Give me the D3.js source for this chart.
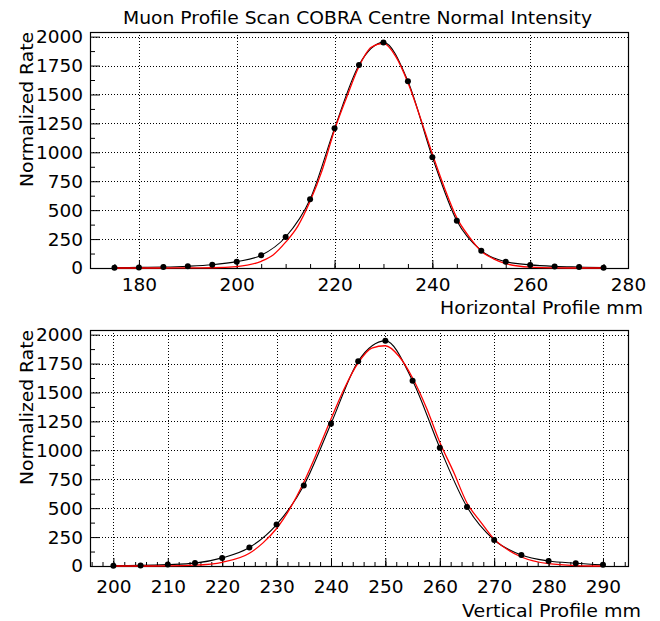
<!DOCTYPE html>
<html>
<head>
<meta charset="utf-8">
<script src="https://cdn.jsdelivr.net/npm/d3@7"></script>
<style>
  body { margin: 0; background: #fff; }
  text { font-family: "DejaVu Sans", sans-serif; fill: #000; }
</style>
</head>
<body>
<div id="chart"></div>
<script>
// horizontal scan: measured points
const hPos = [175, 180, 185, 190, 195, 200, 205, 210, 215, 220, 225, 230, 235, 240, 245, 250, 255, 260, 265, 270, 275];
const hRate = [3, 5, 8, 15, 28, 55, 110, 268, 595, 1207, 1755, 1950, 1615, 958, 408, 150, 55, 27, 14, 8, 3];
// horizontal scan: gaussian fit
const hFitPos = [175, 180, 185, 190, 195, 200, 205, 207.5, 210, 212.5, 215, 217.5, 220, 222.5, 225, 227.5, 230, 232.5, 235, 237.5, 240, 242.5, 245, 247.5, 250, 252.5, 255, 260, 265, 270, 275];
const hFitRate = [0, 0, 0, 1, 2, 12, 58, 115, 223, 362, 576, 850, 1193, 1478, 1742, 1908, 1941, 1830, 1603, 1304, 985, 690, 433, 271, 145, 79, 38, 7, 1, 0, 0];

// vertical scan
const vPos = [200, 205, 210, 215, 220, 225, 230, 235, 240, 245, 250, 255, 260, 265, 270, 275, 280, 285, 290];
const vRate = [3, 5, 12, 25, 70, 160, 358, 695, 1230, 1769, 1946, 1602, 1022, 511, 225, 95, 43, 24, 10];
const vFitPos = [200, 205, 210, 215, 220, 225, 227.5, 230, 232.5, 235, 237.5, 240, 242.5, 245, 247.5, 250, 252.5, 255, 257.5, 260, 262.5, 265, 267.5, 270, 272.5, 275, 280, 285, 290];
const vFitRate = [0, 0, 1, 7, 32, 110, 200, 324, 500, 724, 989, 1271, 1539, 1755, 1883, 1904, 1813, 1625, 1372, 1070, 816, 545, 382, 232, 140, 78, 20, 4, 0];

const yTicks = [0, 250, 500, 750, 1000, 1250, 1500, 1750, 2000];
const hTicks = [180, 200, 220, 240, 260, 280];
const vTicks = [200, 210, 220, 230, 240, 250, 260, 270, 280, 290];

const W = 660, H = 621;
const svg = d3.select('#chart').append('svg')
    .attr('width', W)
    .attr('height', H);

svg.append('text')
    .attr('x', 357.5)
    .attr('y', 24)
    .attr('text-anchor', 'middle')
    .attr('textLength', 469)
    .attr('lengthAdjust', 'spacingAndGlyphs')
    .style('font-size', '17px')
    .text('Muon Profile Scan COBRA Centre Normal Intensity');

function drawPanel(cfg) {
  const left = 90, right = 628;
  const x = d3.scaleLinear().domain(cfg.xDomain).range([left, right]);
  const y = d3.scaleLinear().domain([0, 2040]).range([cfg.bottom, cfg.top]);
  const g = svg.append('g');

  // dotted grid
  const grid = g.append('g')
      .attr('stroke', '#000')
      .attr('stroke-width', 1)
      .attr('stroke-dasharray', '1,2');
  grid.selectAll('line.gx')
      .data(cfg.xTicks.filter(d => x(d) > left + 1 && x(d) < right - 1))
      .join('line')
      .attr('x1', d => Math.round(x(d)) + 0.5)
      .attr('x2', d => Math.round(x(d)) + 0.5)
      .attr('y1', cfg.top)
      .attr('y2', cfg.bottom);
  grid.selectAll('line.gy')
      .data(yTicks.filter(d => d > 0))
      .join('line')
      .attr('x1', left)
      .attr('x2', right)
      .attr('y1', d => Math.round(y(d)) + 0.5)
      .attr('y2', d => Math.round(y(d)) + 0.5);

  // minor ticks
  const xMinor = d3.range(Math.ceil(cfg.xDomain[0] / cfg.minorStep) * cfg.minorStep, cfg.xDomain[1], cfg.minorStep);
  g.append('g')
      .attr('transform', `translate(0,${cfg.bottom})`)
      .call(d3.axisBottom(x).tickValues(xMinor).tickSizeInner(-4).tickSizeOuter(0).tickFormat(''))
      .call(a => a.select('.domain').remove());
  g.append('g')
      .attr('transform', `translate(${left},0)`)
      .call(d3.axisLeft(y).tickValues(d3.range(125, 2040, 250)).tickSizeInner(-5).tickSizeOuter(0).tickFormat(''))
      .call(a => a.select('.domain').remove());

  // major axes
  const xAxis = g.append('g')
      .attr('transform', `translate(0,${cfg.bottom})`)
      .call(d3.axisBottom(x).tickValues(cfg.xTicks).tickSizeInner(-8).tickSizeOuter(0).tickPadding(cfg.xPad).tickFormat(d3.format('d')));
  xAxis.select('.domain').remove();
  xAxis.selectAll('text').style('font-size', '18.5px').attr('fill', '#000');

  const yAxis = g.append('g')
      .attr('transform', `translate(${left},0)`)
      .call(d3.axisLeft(y).tickValues(yTicks).tickSizeInner(-10).tickSizeOuter(0).tickPadding(7).tickFormat(d3.format('d')));
  yAxis.select('.domain').remove();
  yAxis.selectAll('text').style('font-size', '18.5px').attr('fill', '#000');

  // frame
  g.append('rect')
      .attr('x', left + 0.5)
      .attr('y', cfg.top + 0.5)
      .attr('width', right - left)
      .attr('height', cfg.bottom - cfg.top)
      .attr('fill', 'none')
      .attr('stroke', '#000')
      .attr('stroke-width', 1.2);

  const line = d3.line()
      .x(d => x(d[0]))
      .y(d => y(d[1]))
      .curve(d3.curveMonotoneX);

  // measured curve and points
  const pts = d3.zip(cfg.pos, cfg.rate);
  g.append('path')
      .attr('d', line(pts))
      .attr('fill', 'none')
      .attr('stroke', '#000')
      .attr('stroke-width', 1.1);

  // gaussian fit
  g.append('path')
      .attr('d', line(d3.zip(cfg.fitPos, cfg.fitRate)))
      .attr('fill', 'none')
      .attr('stroke', '#ff0000')
      .attr('stroke-width', 1.3);

  g.selectAll('circle')
      .data(pts)
      .join('circle')
      .attr('cx', d => x(d[0]))
      .attr('cy', d => y(d[1]))
      .attr('r', 3)
      .attr('fill', '#000');

  // axis titles
  g.append('text')
      .attr('x', cfg.xTitleEnd)
      .attr('y', cfg.xTitleY)
      .attr('text-anchor', 'end')
      .attr('textLength', cfg.xTitleLen)
      .attr('lengthAdjust', 'spacingAndGlyphs')
      .style('font-size', '17px')
      .text(cfg.xTitle);

  g.append('text')
      .attr('transform', `translate(33,${cfg.top}) rotate(-90)`)
      .attr('text-anchor', 'end')
      .attr('textLength', 155)
      .attr('lengthAdjust', 'spacingAndGlyphs')
      .style('font-size', '17px')
      .text('Normalized Rate');
}

drawPanel({
  top: 32, bottom: 268,
  xDomain: [170, 280],
  xTicks: hTicks, minorStep: 5, xPad: 10,
  pos: hPos, rate: hRate, fitPos: hFitPos, fitRate: hFitRate,
  xTitle: 'Horizontal Profile mm', xTitleEnd: 643, xTitleY: 314, xTitleLen: 203
});

drawPanel({
  top: 330, bottom: 566,
  xDomain: [195.7, 294.6],
  xTicks: vTicks, minorStep: 2, xPad: 14,
  pos: vPos, rate: vRate, fitPos: vFitPos, fitRate: vFitRate,
  xTitle: 'Vertical Profile mm', xTitleEnd: 641, xTitleY: 617, xTitleLen: 179
});
</script>
</body>
</html>
